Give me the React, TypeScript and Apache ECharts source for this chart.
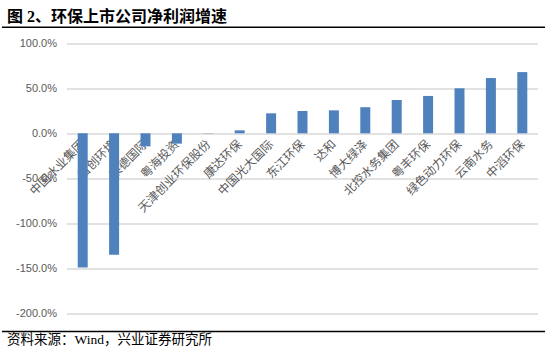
import React, { useEffect, useRef } from "react";
import * as echarts from "echarts";

const titleText = "图 2、环保上市公司净利润增速";
const sourceText = "资料来源：Wind，兴业证券研究所";

const categories = [
  "中国水业集团",
  "首创环境",
  "莱德国际",
  "粤海投资",
  "天津创业环保股份",
  "康达环保",
  "中国光大国际",
  "东江环保",
  "达和",
  "博大绿泽",
  "北控水务集团",
  "粤丰环保",
  "绿色动力环保",
  "云南水务",
  "中滔环保",
];

const growth = [-149, -135, -14.5, -11.5, 0.3, 3.3, 22.2, 24.8, 25.5, 29, 37, 41.5, 50, 61.4, 68];

const yMin = -200;
const yMax = 100;
const yInterval = 50;

const FONT = "'Liberation Serif', 'Noto Sans CJK SC', serif";

const GRID_TOP = 43.3;
const GRID_BOTTOM_Y = 313.3;

export default function App() {
  const ref = useRef<HTMLDivElement>(null);
  useEffect(() => {
    const chart = echarts.init(ref.current!, null, { renderer: "svg" });
    const gridH = GRID_BOTTOM_Y - GRID_TOP;
    const zeroOffset = -gridH * ((0 - yMin) / (yMax - yMin));
    chart.setOption({
      animation: false,
      backgroundColor: "#ffffff",
      grid: {
        left: 67,
        right: 8,
        top: GRID_TOP,
        bottom: 357 - GRID_BOTTOM_Y,
        containLabel: false,
        outerBoundsMode: "none",
      },
      xAxis: {
        type: "category",
        data: categories,
        position: "bottom",
        offset: zeroOffset,
        axisLine: { show: false, onZero: false },
        axisTick: { show: false },
        axisLabel: {
          interval: 0,
          rotate: 45,
          margin: 9,
          fontSize: 12,
          color: "#595959",
          fontFamily: FONT,
        },
        splitLine: { show: false },
      },
      yAxis: {
        type: "value",
        min: yMin,
        max: yMax,
        interval: yInterval,
        axisLine: { show: false },
        axisTick: { show: false },
        axisLabel: {
          margin: 10,
          fontSize: 11,
          color: "#595959",
          fontFamily: "'Liberation Sans', sans-serif",
          formatter: (v: number) => v.toFixed(1) + "%",
        },
        splitLine: { show: true, lineStyle: { color: "#d9d9d9", width: 1.5 } },
      },
      series: [
        {
          type: "bar",
          data: growth,
          barWidth: 10,
          itemStyle: { color: "#4f81bd" },
        },
      ],
      graphic: [
        {
          type: "text",
          left: 7,
          top: 8,
          style: {
            text: titleText,
            fontSize: 16,
            fontWeight: "bold",
            fontFamily: FONT,
            fill: "#000000",
          },
        },
        {
          type: "line",
          shape: { x1: 2, y1: 27.3, x2: 545, y2: 27.3 },
          style: { stroke: "#000000", lineWidth: 1.5 },
        },
        {
          type: "line",
          shape: { x1: 2, y1: 331.5, x2: 545, y2: 331.5 },
          style: { stroke: "#000000", lineWidth: 1.5 },
        },
        {
          type: "text",
          left: 7,
          top: 333,
          style: {
            text: sourceText,
            fontSize: 13.5,
            fontFamily: FONT,
            fill: "#000000",
          },
        },
      ],
    });
    return () => chart.dispose();
  }, []);
  return (
    <div
      ref={ref}
      style={{ position: "fixed", left: 0, top: 0, width: 546, height: 357, background: "#fff" }}
    />
  );
}
